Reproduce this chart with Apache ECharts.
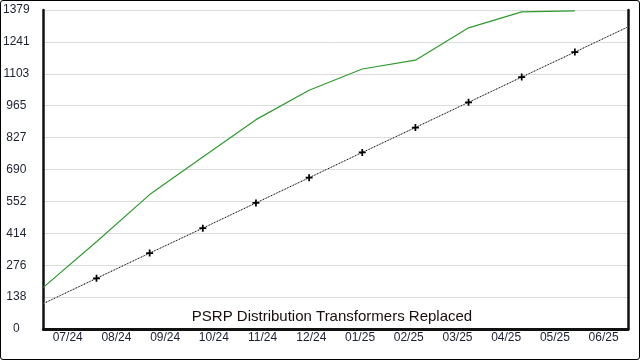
<!DOCTYPE html>
<html>
<head>
<meta charset="utf-8">
<script src="https://cdn.jsdelivr.net/npm/echarts@6/dist/echarts.min.js"></script>
<style>
html,body{margin:0;padding:0;background:#fff;}
#wrap{width:640px;height:360px;box-sizing:border-box;border:1px solid #000;border-radius:3px;position:relative;overflow:hidden;}
#c{position:absolute;left:-1px;top:-1px;width:640px;height:360px;}
</style>
</head>
<body>
<div id="wrap"><div id="c"></div></div>
<script>
// month labels
var months = ['07/24','08/24','09/24','10/24','11/24','12/24','01/25','02/25','03/25','04/25','05/25','06/25'];
// point positions (12 points across full width)
var pointIdx = ['0','1','2','3','4','5','6','7','8','9','10','11'];
// actual replaced (green)
var actual = [180, 377, 581, 744, 905, 1032, 1124, 1162, 1302, 1371, 1375];
// target / plan (black dotted)
var target = [110, 219, 328, 436, 545, 654, 763, 871, 980, 1089, 1197, 1306];
// y tick labels
var yTickLabels = ['0','138','276','414','552','690','827','965','1103','1241','1379'];
var yMax = 1379;
var yStep = 137.9;
var titleText = 'PSRP Distribution Transformers Replaced';

var crossPath = 'path://M3,0H5V3H8V5H5V8H3V5H0V3H3Z';
var targetData = target.map(function(v, i){
  var edge = (i === 0 || i === target.length - 1);
  return {value: v, symbol: edge ? 'none' : crossPath};
});

var chart = echarts.init(document.getElementById('c'), null, {renderer:'canvas'});
var font = 'Arial, "Liberation Sans", sans-serif';
chart.setOption({
  animation: false,
  backgroundColor: 'transparent',
  grid: {left: 43, right: 12, top: 10, bottom: 31, containLabel: false},
  graphic: [{
    type: 'text', x: 332, y: 317,
    style: {text: titleText, font: '15px ' + font, fill: '#1a0d0d', textAlign: 'center', textVerticalAlign: 'middle'},
    z: 100
  }],
  xAxis: [{
    type: 'category', data: months, boundaryGap: true,
    axisLine: {show: true, lineStyle: {color: '#111', width: 3}},
    axisTick: {show: false},
    axisLabel: {color: '#1b2033', fontSize: 12, fontFamily: font, margin: 3, interval: 0},
    splitLine: {show: false}
  }, {
    type: 'category', data: pointIdx, boundaryGap: false, position: 'bottom',
    show: false
  }],
  yAxis: [{
    type: 'value', min: 0, max: yMax, interval: yStep,
    axisLine: {show: true, lineStyle: {color: '#111', width: 2.5}},
    axisTick: {show: false},
    axisLabel: {
      color: '#1b2033', fontSize: 12, fontFamily: font, margin: 27, align: 'center',
      formatter: function(v){ return yTickLabels[Math.round(v / yStep)]; }
    },
    splitLine: {show: true, lineStyle: {color: '#dcdcdc', width: 1}}
  }, {
    type: 'value', min: 0, max: yMax, interval: yStep, position: 'right',
    axisLine: {show: true, lineStyle: {color: '#111', width: 2.5}},
    axisTick: {show: false}, axisLabel: {show: false}, splitLine: {show: false}
  }],
  series: [{
    type: 'line', xAxisIndex: 1, yAxisIndex: 0, data: target,
    showSymbol: false, symbol: 'none',
    lineStyle: {color: '#aaaaaa', width: 1}, z: 2
  }, {
    type: 'line', xAxisIndex: 1, yAxisIndex: 0, data: targetData,
    symbolSize: 7, itemStyle: {color: '#000'},
    lineStyle: {color: '#000', width: 1, type: [1, 2]}, z: 3
  }, {
    type: 'line', xAxisIndex: 1, yAxisIndex: 0, data: actual,
    showSymbol: false, symbol: 'none',
    lineStyle: {color: '#2f9a2f', width: 1.2}, z: 4
  }]
});
</script>
</body>
</html>
